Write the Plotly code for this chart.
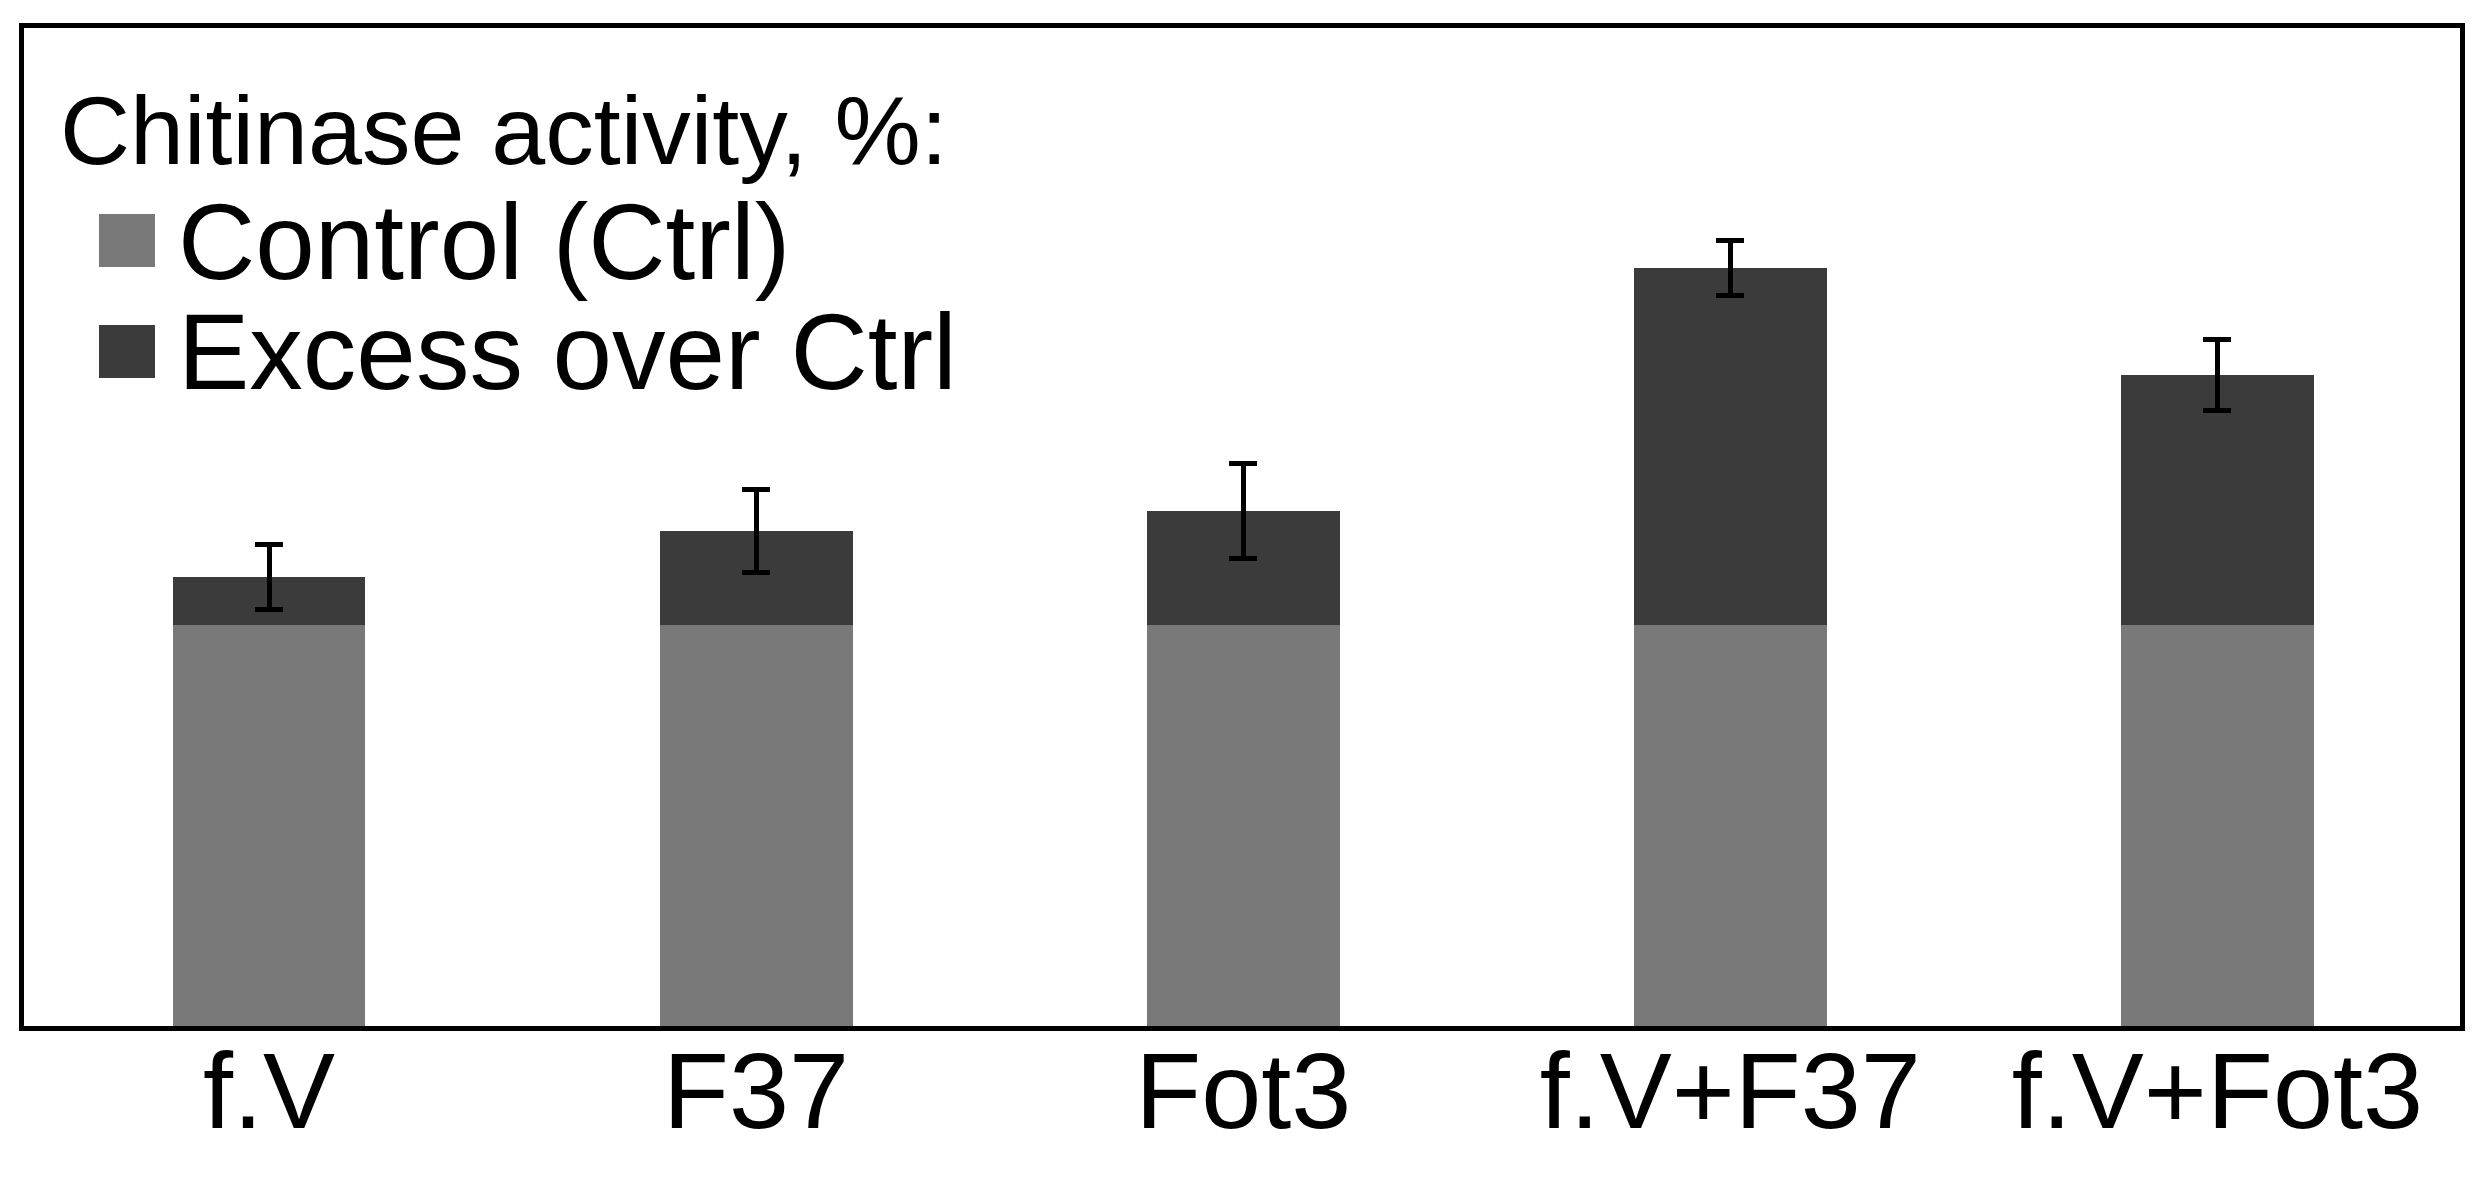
import plotly.graph_objects as go

categories = ["f.V", "F37", "Fot3", "f.V+F37", "f.V+Fot3"]
control = [100, 100, 100, 100, 100]
excess = [12, 23.4, 28.4, 89, 62.3]
excess_err = [8.2, 10.3, 11.8, 6.9, 8.9]

legend_title = "Chitinase activity, %:"
legend_names = ["Control (Ctrl)", "Excess over Ctrl"]

CTRL_COLOR = "#797979"
EXCESS_COLOR = "#3b3b3b"
FONT = "Liberation Sans, Arial, sans-serif"

W, H = 2477, 1179
L, R, T, B = 24, 17, 28, 153


# pixel -> paper helpers for the hand-made legend
def px(x):
    return (x - L) / (W - L - R)


def py(y):
    return (H - B - y) / (H - T - B)


fig = go.Figure()
fig.add_trace(go.Bar(x=categories, y=control, name=legend_names[0],
                     marker=dict(color=CTRL_COLOR, line=dict(width=0)),
                     showlegend=False))
fig.add_trace(go.Bar(x=categories, y=excess, name=legend_names[1],
                     marker=dict(color=EXCESS_COLOR, line=dict(width=0)),
                     error_y=dict(type="data", array=excess_err, color="black",
                                  thickness=5, width=14),
                     showlegend=False))

# legend drawn by hand so the squares can be big
shapes = []
annotations = [dict(text=legend_title, x=px(58), y=py(130), xref="paper", yref="paper",
                    xanchor="left", yanchor="middle", showarrow=False,
                    font=dict(size=97, color="black", family=FONT))]
sq_tops = [214, 325]
txt_mid = [242, 352]
for name, color, top, mid in zip(legend_names, [CTRL_COLOR, EXCESS_COLOR], sq_tops, txt_mid):
    shapes.append(dict(type="rect", xref="paper", yref="paper",
                       x0=px(99), x1=px(155), y0=py(top + 53), y1=py(top),
                       fillcolor=color, line=dict(width=0)))
    annotations.append(dict(text=name, x=px(176), y=py(mid), xref="paper", yref="paper",
                            xanchor="left", yanchor="middle", showarrow=False,
                            font=dict(size=107, color="black", family=FONT)))

fig.update_layout(
    barmode="stack",
    bargap=0.604,
    width=W, height=H,
    margin=dict(l=L, r=R, t=T, b=B),
    paper_bgcolor="white",
    plot_bgcolor="white",
    font=dict(family=FONT, color="black"),
    shapes=shapes,
    annotations=annotations,
    xaxis=dict(range=[-0.503, 4.498], showline=True, linecolor="black", linewidth=5,
               mirror=True, ticks="", tickfont=dict(size=108, color="black"),
               ticklabelstandoff=-33, showgrid=False, automargin=False),
    yaxis=dict(range=[0, 248.9], showline=True, linecolor="black", linewidth=5,
               mirror=True, showticklabels=False, ticks="", showgrid=False,
               zeroline=False, automargin=False),
)

fig.write_html("out.html", config={"displayModeBar": False},
               post_script="document.body.style.margin='0';")
